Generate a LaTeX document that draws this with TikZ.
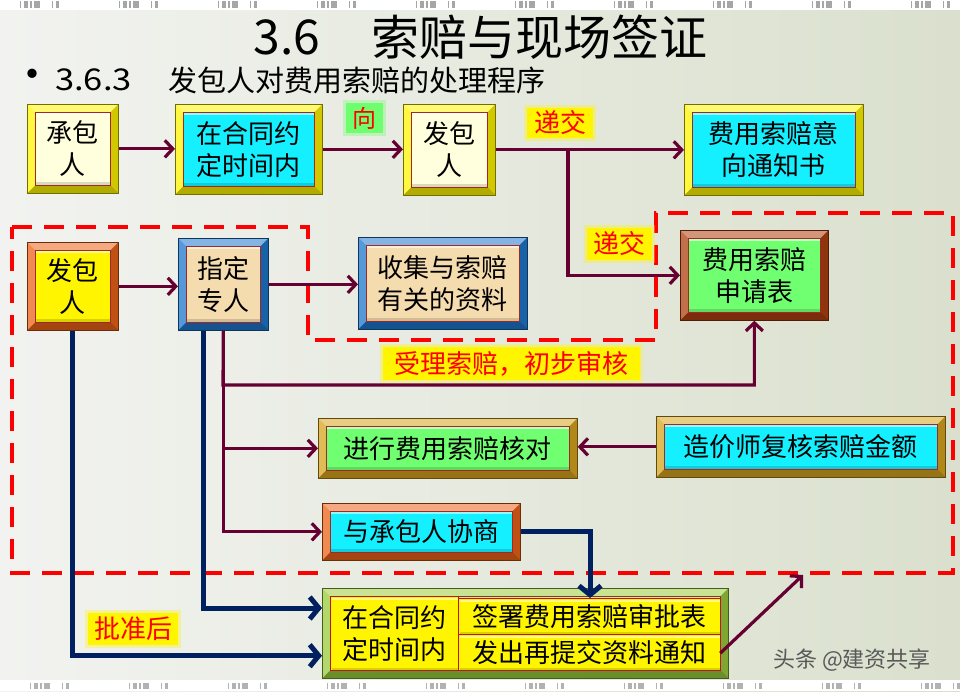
\documentclass[tikz,border=0pt]{standalone}
\usepackage{fontspec}
\setmainfont{Noto Sans CJK SC}
\usetikzlibrary{arrows.meta,calc}
\definecolor{arrowp}{RGB}{102,0,51}
\definecolor{navyc}{RGB}{0,32,96}
\definecolor{fyellow}{RGB}{255,245,0}
\definecolor{cream}{RGB}{255,255,221}
\definecolor{cyanf}{RGB}{20,240,255}
\definecolor{forange}{RGB}{236,100,24}
\definecolor{fblue}{RGB}{30,120,205}
\definecolor{wheatf}{RGB}{245,220,175}
\definecolor{fbrown}{RGB}{176,64,16}
\definecolor{greenf}{RGB}{112,255,112}
\definecolor{fgold}{RGB}{215,165,30}
\definecolor{fgreen}{RGB}{153,204,60}
\definecolor{innerred}{RGB}{160,40,40}
\definecolor{cellred}{RGB}{190,20,20}
\definecolor{bgL}{RGB}{242,243,240}
\definecolor{bgR}{RGB}{218,224,205}
\definecolor{glowg}{RGB}{110,255,110}
\begin{document}
\begin{tikzpicture}[x=1pt,y=1pt,
  parrow/.style={draw=arrowp, line width=3.2pt, -{Straight Barb[length=8pt,width=17pt]}},
  narrow/.style={draw=navyc, line width=5pt, -{Straight Barb[length=9pt,width=22pt]}},
  reddash/.style={draw=red, line width=4.5pt, dash pattern=on 20pt off 12pt},
  glow/.style={fill=#1, text=red, inner sep=0pt, font=\fontsize{26}{30}\selectfont,
    preaction={draw=#1, line width=6pt, opacity=0.35}},
  bevbox/.style 2 args={rectangle, inner sep=0pt, anchor=north west, align=center,
    draw=#1!45!black, line width=0.7pt, fill=#1,
    font=\fontsize{26}{32}\selectfont,
    path picture={
      \coordinate (SW) at (path picture bounding box.south west);
      \coordinate (NE) at (path picture bounding box.north east);
      \coordinate (NW) at (SW |- NE);
      \coordinate (SE) at (NE |- SW);
      \fill[white,opacity=0.45] (NW) -- (NE) -- ($(NE)+(-8pt,-8pt)$) -- ($(NW)+(8pt,-8pt)$) -- cycle;
      \fill[white,opacity=0.25] (NW) -- (SW) -- ($(SW)+(8pt,8pt)$) -- ($(NW)+(8pt,-8pt)$) -- cycle;
      \fill[black,opacity=0.3] (SW) -- (SE) -- ($(SE)+(-8pt,8pt)$) -- ($(SW)+(8pt,8pt)$) -- cycle;
      \fill[black,opacity=0.18] (SE) -- (NE) -- ($(NE)+(-8pt,-8pt)$) -- ($(SE)+(-8pt,8pt)$) -- cycle;
      \draw[fill=#2, draw=innerred, line width=0.9pt] ($(SW)+(8pt,8pt)$) rectangle ($(NE)+(-8pt,-8pt)$);
      \fill[white,opacity=0.55] ($(NW)+(8.5pt,-8.5pt)$) rectangle ($(NE)+(-8.5pt,-11pt)$);
      \fill[black,opacity=0.15] ($(SW)+(8.5pt,8.5pt)$) rectangle ($(SE)+(-8.5pt,11pt)$);
    }},
  cell/.style={rectangle, inner sep=0pt, anchor=north west, align=center,
    fill=fyellow, draw=cellred, line width=1pt, font=\fontsize{26}{32}\selectfont,
    path picture={
      \fill[white,opacity=0.5] ($(path picture bounding box.north west)+(1pt,-1pt)$) rectangle ($(path picture bounding box.north east)+(-1pt,-3pt)$);
      \fill[black,opacity=0.15] ($(path picture bounding box.south west)+(1pt,1pt)$) rectangle ($(path picture bounding box.south east)+(-1pt,3pt)$);
    }}
]
\useasboundingbox (0,0) rectangle (960,691);
% background
\shade[left color=bgL, right color=bgR] (0,0) rectangle (960,691);
\fill[white] (0,681) rectangle (960,691);
\fill[white] (0,0) rectangle (960,11);
\draw[black!35, line width=7pt, dash pattern=on 1pt off 3pt on 4pt off 2pt on 2pt off 2pt on 6pt off 12pt on 1pt off 3pt on 3pt off 60pt] (20,686) -- (960,686);
\draw[black!30, line width=6pt, dash pattern=on 1pt off 3pt on 4pt off 2pt on 2pt off 2pt on 6pt off 12pt on 1pt off 3pt on 3pt off 60pt] (30,5) -- (960,5);

% title
\node[anchor=west, font=\fontsize{48}{52}\selectfont] (t36) at (250,654) {3.6};
\node[anchor=west, font=\fontsize{48}{52}\selectfont] (ttl) at (368,654) {索赔与现场签证};
\node[font=\fontsize{44}{48}\selectfont] (bul) at (32,611) {•};
\node[anchor=west, inner sep=0pt, font=\fontsize{30}{34}\selectfont, xscale=1.15] (s363) at (55,611) {3.6.3};
\node[anchor=west, inner sep=0pt, font=\fontsize{29}{34}\selectfont] (sub) at (168,611) {发包人对费用索赔的处理程序};

% red dashed outline
\draw[reddash] (12,464) -- (308,464) -- (308,351) -- (656,351) -- (656,478) -- (953,478) -- (953,118) -- (12,118) -- cycle;

% boxes
\node[bevbox={fyellow}{cream}, minimum width=91pt, minimum height=89pt] (cbr) at (27,587) {承包\\人};
\node[bevbox={fyellow}{cyanf}, minimum width=147pt, minimum height=90pt] (t1) at (175,587) {在合同约\\定时间内};
\node[bevbox={fyellow}{cream}, minimum width=92pt, minimum height=91pt] (fbr1) at (403,587) {发包\\人};
\node[bevbox={fyellow}{cyanf}, minimum width=179pt, minimum height=91pt] (yx) at (684,587) {费用索赔意\\向通知书};
\node[bevbox={fbrown}{greenf}, minimum width=148pt, minimum height=90pt] (sqb) at (680,461) {费用索赔\\申请表};
\node[bevbox={forange}{fyellow}, minimum width=91pt, minimum height=88pt] (fbr2) at (27,449) {发包\\人};
\node[bevbox={fblue}{wheatf}, minimum width=90pt, minimum height=92pt] (zdzr) at (178,453) {指定\\专人};
\node[bevbox={fblue}{wheatf}, minimum width=169pt, minimum height=92pt] (sj) at (358,454) {收集与索赔\\有关的资料};
\node[bevbox={fgold}{greenf}, minimum width=259pt, minimum height=60pt] (hd) at (318,273) {进行费用索赔核对};
\node[bevbox={fgold}{cyanf}, minimum width=289pt, minimum height=61pt] (zjs) at (656,275) {造价师复核索赔金额};
\node[bevbox={forange}{cyanf}, minimum width=198pt, minimum height=57pt] (xs) at (322,188) {与承包人协商};
\node[bevbox={fgreen}{fgreen}, minimum width=406pt, minimum height=90pt] (bottom) at (322,103) {};
\node[cell, minimum width=128pt, minimum height=74pt] (cl) at (330,95) {在合同约\\定时间内};
\node[cell, minimum width=262pt, minimum height=36pt] (cr1) at (458,93) {签署费用索赔审批表};
\node[cell, minimum width=262pt, minimum height=36pt] (cr2) at (458,57) {发出再提交资料通知};

% labels
\node[glow=glowg, minimum width=37pt, minimum height=30pt, font=\fontsize{24}{28}\selectfont] (xiang) at (364.5,573) {向};
\node[glow=fyellow, minimum width=66pt, minimum height=30pt] (dj1) at (560,568) {递交};
\node[glow=fyellow, minimum width=65pt, minimum height=32pt] (dj2) at (619.5,447) {递交};
\node[glow=fyellow, minimum width=257pt, minimum height=33pt] (sl) at (511.5,327.5) {受理索赔，初步审核};
\node[glow=fyellow, minimum width=90pt, minimum height=32pt] (pzh) at (133,62) {批准后};

% purple connectors
\draw[parrow] (cbr.east) -- (cbr.east -| t1.west);
\draw[parrow] (t1.east) -- (t1.east -| fbr1.west);
\draw[parrow] (fbr1.east) -- (fbr1.east -| yx.west);
\coordinate (br) at (568,541.5);
\draw[parrow] (br) |- (sqb.west);
\draw[parrow] (fbr2.east) -- (fbr2.east -| zdzr.west);
\draw[parrow] (zdzr.east) -- (zdzr.east -| sj.west);
\coordinate (c1) at (223,306);
\draw[parrow] (zdzr.south) -- (c1) -| (sqb.south);
\draw[parrow] (zdzr.south) |- (hd.west);
\draw[parrow] (zdzr.south) |- (xs.west);
\draw[parrow] (zjs.west) -- (zjs.west -| hd.east);
\coordinate (tipd) at (803,116);
\draw[parrow, shorten <=-1pt] (cr2.east) -- (tipd);

% navy connectors
\draw[narrow] ([xshift=-20pt]zdzr.south) |- ([yshift=-20pt]bottom.north west);
\draw[narrow] (fbr2.south) |- ([yshift=23pt]bottom.south west);
\draw[narrow] (xs.east) -| ($(cr1.north west)+(132pt,0)$);

% watermark
\node[text=black!65, font=\fontsize{22}{26}\selectfont] (wm) at (852,31) {头条 @建资共享};
\end{tikzpicture}
\end{document}
